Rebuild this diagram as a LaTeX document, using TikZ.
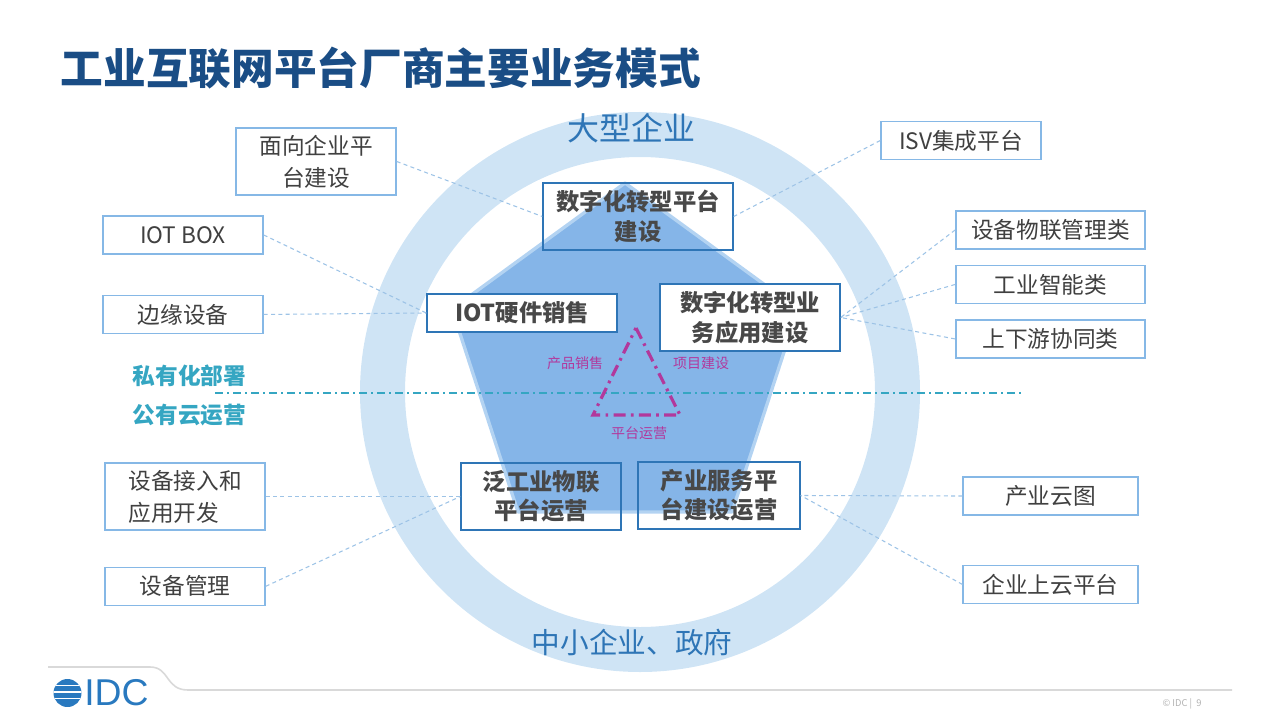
\documentclass[tikz,border=0pt]{standalone}
\usepackage{fontspec}
\setmainfont{Noto Sans CJK SC}
\newfontfamily\logofont{Liberation Sans}
\usetikzlibrary{positioning}
\definecolor{titleblue}{HTML}{1A4D85}
\definecolor{ringblue}{HTML}{CFE4F5}
\definecolor{pentblue}{HTML}{85B5E8}
\definecolor{pentedge}{HTML}{B3D3F2}
\definecolor{boxline}{HTML}{86B8E6}
\definecolor{coreline}{HTML}{2E75B6}
\definecolor{linkblue}{HTML}{9DC3E6}
\definecolor{textgray}{HTML}{404040}
\definecolor{coregray}{HTML}{484848}
\definecolor{tealtext}{HTML}{35A6C2}
\definecolor{magtext}{HTML}{B2389C}
\definecolor{logoblue}{HTML}{2979BF}

\begin{document}
\begin{tikzpicture}[x=0.75pt, y=-0.75pt,
			outerbox/.style={draw=boxline, line width=1.1pt, fill=white, text=textgray, minimum width=120pt, minimum height=28.5pt, inner sep=0pt, align=center, font=\fontsize{17}{24}\selectfont},
			corebox/.style={draw=coreline, line width=1.1pt, text=coregray, minimum width=142.5pt, minimum height=50pt, inner sep=0pt, align=center, font=\fontsize{17.5}{22}\selectfont\bfseries},
			linkline/.style={draw=linkblue, line width=0.8pt, dash pattern=on 3pt off 2.5pt},
			magtag/.style={text=magtext, font=\fontsize{10.5}{12}\selectfont},
		]
		\useasboundingbox (0,0) rectangle (1280,720);
		
			%Title
			\node[anchor=west, text=titleblue, font=\fontsize{32}{36}\selectfont\bfseries] (title) at (56,68) {工业互联网平台厂商主要业务模式};
		
			%Ring and pentagon
			\fill[ringblue, even odd rule] (640,392) circle[radius=280] (640,392) circle[radius=235];
			\filldraw[fill=pentblue, draw=pentedge, line width=2.5pt, line join=round] (625,183) -- (798,309) -- (732,512) -- (518,512) -- (452,309) -- cycle;
			\node[text=coreline, font=\fontsize{24}{28}\selectfont] (big) at (631,128) {大型企业};
			\node[text=coreline, font=\fontsize{21.5}{26}\selectfont] (small) at (632,643) {中小企业、政府};
		
			%Private / public split
			\node[anchor=west, text=tealtext, font=\fontsize{17}{20}\selectfont\bfseries] (priv) at (128,376) {私有化部署};
			\node[anchor=west, text=tealtext, font=\fontsize{17}{20}\selectfont\bfseries] (pub) at (128,415) {公有云运营};
			\coordinate (splitL) at (215,393);
			\coordinate (splitR) at (1025,393);
			\draw[tealtext, line width=1.5pt, dash pattern=on 6pt off 3pt on 1.5pt off 3pt] (splitL) -- (splitR);
		
			%Triangle
			\coordinate (t1) at (636,328);
			\coordinate (t2) at (680,415);
			\coordinate (t3) at (593,415);
			\draw[magtext, line width=2.4pt, dash pattern=on 9pt off 4pt on 2pt off 4pt] (t1) -- (t2) -- (t3) -- cycle;
			\node[magtag] (sale) at (575,363) {产品销售};
			\node[magtag] (proj) at (701,363) {项目建设};
			\node[magtag] (oper) at (639,433) {平台运营};
		
			%Core nodes
			\node[corebox] (dplat) at (638,216.5) {数字化转型平台\\建设};
			\node[corebox, fill=white, minimum height=28.5pt] (iot) at (522,313) {IOT硬件销售};
			\node[corebox, fill=white, minimum width=135pt] (dapp) at (750,317.5) {数字化转型业\\务应用建设};
			\node[corebox, minimum width=120pt] (iiot) at (541,496.5) {泛工业物联\\平台运营};
			\node[corebox, minimum width=121.5pt] (isrv) at (719,495.5) {产业服务平\\台建设运营};
		
			%Outer nodes
			\node[outerbox, minimum height=50pt] (face) at (316,161.5) {面向企业平\\台建设};
			\node[outerbox] (iotbox) at (183,235) {IOT BOX};
			\node[outerbox] (edge) [below=30pt of iotbox] {边缘设备};
			\node[outerbox] (isv) at (961,140.5) {ISV集成平台};
			\node[outerbox, minimum width=142pt] (devm) at (1050.5,230) {设备物联管理类};
			\node[outerbox, minimum width=142pt] (ai) [below=11.25pt of devm] {工业智能类};
			\node[outerbox, minimum width=142pt] (chain) [below=11.25pt of ai] {上下游协同类};
			\node[outerbox, minimum height=50pt, align=left] (access) at (185,496.5) {设备接入和\\应用开发};
			\node[outerbox] (mgmt) [below=27pt of access] {设备管理};
			\node[outerbox, minimum width=131pt] (cmap) at (1050.5,496) {产业云图};
			\node[outerbox, minimum width=131pt] (cplat) [below=36.75pt of cmap] {企业上云平台};
		
			%Lines
			\draw[linkline] (face.east) -- (dplat.west);
			\draw[linkline] (isv.west) -- (dplat.east);
			\draw[linkline] (iotbox.east) -- (iot.west);
			\draw[linkline] (edge.east) -- (iot.west);
			\draw[linkline] (devm.west) -- (dapp.east);
			\draw[linkline] (ai.west) -- (dapp.east);
			\draw[linkline] (chain.west) -- (dapp.east);
			\draw[linkline] (access.east) -- (iiot.west);
			\draw[linkline] (mgmt.east) -- (iiot.west);
			\draw[linkline] (cmap.west) -- (isrv.east);
			\draw[linkline] (cplat.west) -- (isrv.east);
		
			%Footer
			\draw[black!15, line width=1.2pt] (48,667) -- (150,667) .. controls (170,667) and (165,690) .. (188,690) -- (1232,690);
			\begin{scope}
				\clip (67.5,693) circle[radius=14];
				\fill[logoblue] (53,679) rectangle (82,707);
				\foreach \y in {685.5,692,698.5}
					\draw[white, line width=1.4pt] (50,\y) -- (85,\y);
			\end{scope}
			\node[anchor=west, inner sep=0pt, text=logoblue, font=\logofont\fontsize{28}{30}\selectfont] (logo) at (84,693) {IDC};
			\node[text=black!30, font=\fontsize{7}{8}\selectfont] (page) at (1182,704) {© IDC |\ \ 9};
		
		\end{tikzpicture}
\end{document}
